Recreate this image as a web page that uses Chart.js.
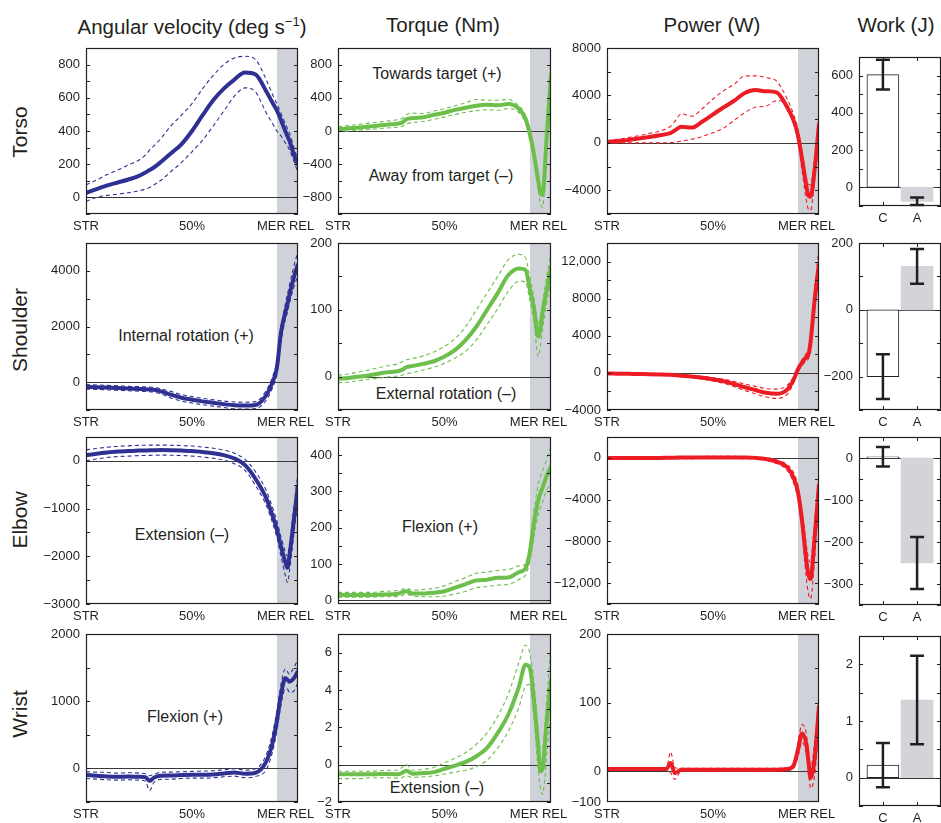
<!DOCTYPE html>
<html>
<head>
<meta charset="utf-8">
<script src="https://cdn.jsdelivr.net/npm/chart.js@4.4.0/dist/chart.umd.min.js"></script>
<style>
body{margin:0;width:941px;height:823px;overflow:hidden;background:#fff;position:relative;
  font-family:"Liberation Sans",Arial,Helvetica,sans-serif;color:#231f20}
.box{position:absolute}
.title{position:absolute;font-size:20.5px;transform:translate(-50%,-50%);white-space:nowrap}
.title sup{font-size:13px;line-height:0}
.row{position:absolute;font-size:21px;transform:translate(-50%,-50%) rotate(-90deg);white-space:nowrap}
.note{position:absolute;font-size:16px;transform:translate(-50%,-50%);white-space:nowrap}
</style>
</head>
<body>
<div class="title" style="left:192px;top:27px">Angular velocity (deg s<sup>&minus;1</sup>)</div>
<div class="title" style="left:443px;top:25px">Torque (Nm)</div>
<div class="title" style="left:712px;top:25px">Power (W)</div>
<div class="title" style="left:896px;top:25px">Work (J)</div>
<div class="row" style="left:20px;top:132px">Torso</div>
<div class="row" style="left:20px;top:330px">Shoulder</div>
<div class="row" style="left:20px;top:520px">Elbow</div>
<div class="row" style="left:20px;top:714px">Wrist</div>

<div class="note" style="left:437px;top:74px">Towards target (+)</div>
<div class="note" style="left:441px;top:176px">Away from target (–)</div>
<div class="note" style="left:186px;top:336px">Internal rotation (+)</div>
<div class="note" style="left:446px;top:394px">External rotation (–)</div>
<div class="note" style="left:182px;top:535px">Extension (–)</div>
<div class="note" style="left:440px;top:527px">Flexion (+)</div>
<div class="note" style="left:185px;top:717px">Flexion (+)</div>
<div class="note" style="left:437px;top:788px">Extension (–)</div>

<script>
// time axis (% of STR -> REL)
const pct = [0,5,10,15,20,25,28,30,32,35,40,45,50,55,60,65,70,75,80,85,88,90,92,94,95,96,98,100];
const mer = 90;
const timeTicks = [0,50,90,100];
const timeLabels = ['STR','50%','MER   ','  REL'];

// angular velocity (deg/s)
const avTorso   = [26,50,72,90,108,130,150,165,180,210,265,320,400,495,585,655,710,752,740,640,570,525,465,400,370,340,260,195];
const avTorsoUp = [76,105,138,165,195,225,255,285,310,350,430,495,565,655,735,800,840,850,830,710,620,565,505,445,415,385,305,225];
const avTorsoLo = [-25,0,12,20,28,40,50,60,75,100,155,210,275,345,430,520,610,660,635,510,445,400,370,330,310,285,220,150];
const avShoulder   = [-170,-180,-195,-210,-230,-245,-252,-260,-275,-320,-450,-560,-630,-690,-740,-790,-830,-840,-820,-470,0,500,1800,2500,2800,3150,3750,4250];
const avShoulderUp = [-90,-100,-115,-130,-150,-160,-168,-175,-190,-230,-330,-450,-520,-580,-630,-680,-710,-720,-700,-300,200,750,1950,2800,3150,3500,4150,4700];
const avShoulderLo = [-250,-260,-275,-290,-310,-325,-335,-345,-360,-410,-570,-680,-750,-810,-860,-910,-960,-970,-950,-650,-200,250,1450,2250,2500,2850,3400,3850];
const avElbow   = [120,150,175,195,205,215,218,220,222,225,222,215,205,185,160,120,50,-90,-380,-780,-1150,-1430,-1800,-2120,-2240,-1980,-1250,-500];
const avElbowUp = [230,260,285,305,315,325,328,330,330,330,327,320,310,290,265,225,160,30,-230,-620,-980,-1250,-1600,-1900,-2000,-1750,-1000,-250];
const avElbowLo = [0,40,70,90,100,110,113,115,117,120,118,112,100,80,55,15,-60,-200,-520,-930,-1300,-1600,-2000,-2400,-2550,-2300,-1550,-800];
const avWrist   = [-100,-110,-120,-125,-120,-125,-130,-185,-140,-110,-105,-100,-95,-95,-90,-75,-60,-80,-65,100,380,700,1100,1340,1320,1290,1340,1450];
const avWristUp = [-50,-55,-60,-70,-65,-70,-80,-110,-90,-60,-55,-50,-45,-40,-35,-20,-5,-25,-5,200,520,850,1250,1480,1440,1400,1500,1620];
const avWristLo = [-150,-160,-170,-175,-170,-175,-190,-330,-210,-165,-160,-150,-145,-145,-140,-125,-115,-140,-120,-20,250,550,950,1180,1180,1130,1150,1280];

// torque (Nm)
const tqTorso   = [20,32,43,55,68,80,88,100,140,155,165,195,220,255,280,305,315,310,325,265,150,-30,-280,-600,-740,-770,-60,680];
const tqTorsoUp = [50,65,80,95,110,125,135,150,195,215,210,240,270,305,340,380,370,370,380,300,190,20,-220,-500,-640,-620,120,900];
const tqTorsoLo = [-10,0,10,20,30,40,45,55,85,100,115,140,170,200,225,245,255,250,270,220,100,-80,-350,-700,-880,-920,-280,450];
const tqShoulder   = [-3,-2,0,2,5,7,8,10,14,16,19,23,30,40,55,75,100,125,152,162,160,132,102,60,72,95,130,165];
const tqShoulderUp = [2,4,7,10,14,17,19,22,25,27,31,37,45,57,75,100,125,150,175,183,178,150,118,78,90,110,150,185];
const tqShoulderLo = [-9,-8,-6,-4,-2,0,1,2,4,6,10,14,20,28,38,55,78,102,128,143,142,115,82,30,45,70,110,145];
const tqElbow   = [15,15,15,15,16,17,18,22,25,19,19,21,25,35,45,55,57,62,63,78,88,130,215,275,295,310,343,370];
const tqElbowUp = [22,22,22,22,24,26,27,30,33,28,30,33,40,52,63,75,78,83,85,95,100,155,245,320,340,355,390,425];
const tqElbowLo = [9,9,9,9,10,10,11,13,17,12,10,10,12,18,25,35,38,42,44,58,70,105,175,235,255,270,305,320];
const tqWrist   = [-0.52,-0.52,-0.52,-0.52,-0.5,-0.5,-0.52,-0.45,-0.32,-0.48,-0.45,-0.4,-0.22,-0.05,0.15,0.45,0.9,1.7,2.7,4.2,5.35,5.2,3.4,0.95,-0.35,-0.2,2.3,4.6];
const tqWristUp = [-0.35,-0.35,-0.35,-0.35,-0.32,-0.3,-0.3,-0.15,0,-0.3,-0.25,-0.15,0.1,0.35,0.65,1.1,1.7,2.6,3.8,5.5,6.4,6.0,4.4,1.8,0.8,0.9,3.5,6.6];
const tqWristLo = [-0.75,-0.75,-0.75,-0.7,-0.7,-0.7,-0.72,-0.7,-0.6,-0.68,-0.65,-0.6,-0.5,-0.4,-0.3,-0.1,0.25,0.9,1.8,3.1,4.2,4.3,2.5,-0.3,-1.2,-1.6,0.5,2.8];

// power (W)
const pwTorso   = [80,150,250,370,500,640,740,830,1050,1350,1290,1800,2400,3000,3550,4200,4450,4350,4250,3000,1900,700,-1350,-3600,-4450,-4550,-2150,1600];
const pwTorsoUp = [200,300,450,600,800,1000,1200,1400,1800,2450,2250,2900,3700,4400,4950,5650,5650,5500,5200,3700,2400,1200,-900,-2900,-3500,-3550,-1200,2600];
const pwTorsoLo = [-50,-20,0,0,0,0,10,20,60,150,300,550,850,1250,1900,2550,3000,3100,3550,3100,1700,200,-2300,-4800,-5600,-5700,-3000,400];
const pwShoulder   = [-60,-80,-100,-120,-140,-170,-190,-210,-240,-300,-400,-520,-700,-900,-1200,-1550,-1850,-2150,-2250,-1800,-750,350,1100,1700,1950,3300,8000,11700];
const pwShoulderUp = [-40,-50,-60,-80,-90,-110,-125,-140,-160,-200,-280,-370,-520,-680,-920,-1200,-1450,-1700,-1750,-1350,-400,650,1400,2100,2400,4000,9200,13500];
const pwShoulderLo = [-80,-110,-140,-160,-190,-230,-255,-280,-320,-400,-520,-680,-880,-1120,-1480,-1900,-2250,-2600,-2750,-2300,-1100,50,800,1300,1550,2600,7000,10000];
const pwElbow   = [0,0,0,0,0,0,10,20,20,30,30,40,40,40,40,30,0,-100,-350,-900,-1900,-3200,-6000,-9800,-11200,-11600,-7500,-2500];
const pwElbowUp = [100,100,100,100,100,100,110,120,120,130,130,140,140,140,140,130,100,0,-200,-650,-1400,-2600,-5000,-8300,-9600,-10000,-6000,-1500];
const pwElbowLo = [-100,-100,-100,-100,-100,-100,-90,-80,-80,-70,-70,-60,-60,-60,-60,-70,-100,-250,-550,-1200,-2400,-3900,-7000,-11500,-13000,-13500,-9500,-3500];
const pwWrist   = [3,3,3,3,3,3,3,12,-3,2,2,2,2,2,2,2,2,2,2,3,8,30,55,40,15,-10,20,95];
const pwWristUp = [5,5,5,5,5,5,5,28,5,4,4,4,4,4,4,4,4,4,4,5,12,40,68,55,30,5,45,110];
const pwWristLo = [1,1,1,1,1,1,1,-2,-12,0,0,0,0,0,0,0,0,0,0,1,4,20,42,25,0,-25,-5,70];

// work (J): C and A with SD
const workCats = ['C','A'];
const workTorso = [605,-75],   workTorsoErr = [80,20];
const workShoulder = [-200,130], workShoulderErr = [67,52];
const workElbow = [3,-250],    workElbowErr = [23,62];
const workWrist = [0.22,1.37], workWristErr = [0.39,0.78];

// y ticks (the wrist power panel's bottom tick is printed as -100 in the figure)
const avTicks = [[0,200,400,600,800],[0,2000,4000],[-3000,-2000,-1000,0],[0,1000,2000]];
const tqTicks = [[-800,-400,0,400,800],[0,100,200],[0,100,200,300,400],[-2,0,2,4,6]];
const pwTicks = [[-4000,0,4000,8000],[-4000,0,4000,8000,12000],[-12000,-8000,-4000,0],[-45,0,100,200]];
const pwWristTickLabels = ['\u2212100','0','100','200'];
const wkTicks = [[0,200,400,600],[-200,0,200],[-300,-200,-100,0],[0,1,2]];

const BLUE = '#2e3192', GREEN = '#6cbf4a', RED = '#ed1c24';
const SHADE = '#cfd2d9', INK = '#231f20';

const colX = [86,338,607];
const colW = [212,213,212];
const rowY = [48,243,437,634];
const rowH = [166,167,167,168];

function fmt(v){
  const a = Math.abs(v);
  const s = a >= 10000 ? a.toLocaleString('en-US') : String(a);
  return (v < 0 ? '\u2212' : '') + s;
}
function pts(arr){ return arr.map((v,i) => ({x: pct[i], y: v})); }

function frame(opts){
  return {
    id: 'frame',
    beforeDatasetsDraw(chart){
      const {ctx, chartArea: a, scales: {x, y}} = chart;
      ctx.save();
      if (opts.shade){
        const xs = Math.round(x.getPixelForValue(mer));
        ctx.fillStyle = SHADE;
        ctx.fillRect(xs, a.top, a.right - xs, a.bottom - a.top);
      }
      const y0 = Math.round(y.getPixelForValue(0)) + 0.5;
      ctx.strokeStyle = '#3a3a3a'; ctx.lineWidth = 1;
      ctx.beginPath(); ctx.moveTo(a.left, y0); ctx.lineTo(a.right, y0); ctx.stroke();
      ctx.restore();
    },
    afterDatasetsDraw(chart){
      if (!opts.err) return;
      const {ctx, scales: {x, y}} = chart;
      ctx.save();
      ctx.strokeStyle = INK; ctx.lineWidth = 2.5;
      opts.vals.forEach((v,i) => {
        const px = x.getPixelForValue(i+1);
        const t = y.getPixelForValue(v + opts.err[i]);
        const b = y.getPixelForValue(v - opts.err[i]);
        ctx.beginPath();
        ctx.moveTo(px, t); ctx.lineTo(px, b);
        ctx.moveTo(px-7, t); ctx.lineTo(px+7, t);
        ctx.moveTo(px-7, b); ctx.lineTo(px+7, b);
        ctx.stroke();
      });
      ctx.restore();
    },
    afterDraw(chart){
      const {ctx, chartArea: a, scales: {x, y}} = chart;
      ctx.save();
      ctx.strokeStyle = INK; ctx.lineWidth = 1.2;
      ctx.strokeRect(a.left+0.5, a.top+0.5, a.right-a.left-1, a.bottom-a.top-1);
      // inward minor ticks
      const step = opts.step;
      ctx.lineWidth = 1;
      ctx.beginPath();
      for (let v = Math.ceil(y.min/step)*step; v <= y.max; v += step){
        const py = Math.round(y.getPixelForValue(v)) + 0.5;
        ctx.moveTo(a.left, py); ctx.lineTo(a.left+4, py);
        ctx.moveTo(a.right, py); ctx.lineTo(a.right-4, py);
      }
      if (opts.err){
        [1,2].forEach(c => {
          const px = Math.round(x.getPixelForValue(c)) + 0.5;
          ctx.moveTo(px, a.top); ctx.lineTo(px, a.top+4);
          ctx.moveTo(px, a.bottom); ctx.lineTo(px, a.bottom-4);
        });
      }
      ctx.stroke();
      ctx.restore();
    }
  };
}

function place(left, top, w, h, YW, PT, PR, XH){
  const div = document.createElement('div');
  div.className = 'box';
  div.style.left = (left - YW) + 'px';
  div.style.top = (top - PT) + 'px';
  const cv = document.createElement('canvas');
  cv.width = YW + w + PR;
  cv.height = PT + h + XH;
  div.appendChild(cv);
  document.body.appendChild(div);
  return cv;
}

const tickFont = {family: '"Liberation Sans", Arial, sans-serif', size: 13};

function axisY(min, max, ticks, YW, labels){
  return {
    type: 'linear', min: min, max: max,
    grid: {display: false, drawTicks: false}, border: {display: false},
    afterBuildTicks: s => { s.ticks = ticks.map(v => ({value: v})); },
    afterFit: s => { s.width = YW; },
    ticks: {color: INK, font: tickFont, padding: 6, autoSkip: false,
            callback: v => labels ? labels[ticks.indexOf(v)] : fmt(v)}
  };
}

function linePanel(c, r, color, mean, up, lo, min, max, ticks, labels){
  const YW = 62, PT = 26, PR = 36, XH = 22;
  const cv = place(colX[c], rowY[r], colW[c], rowH[r], YW, PT, PR, XH);
  const dashed = arr => ({data: pts(arr), borderColor: color, borderWidth: 1.1, borderDash: [4,3]});
  const step = labels ? 50 : (ticks[1] - ticks[0]) / 2;
  new Chart(cv, {
    type: 'line',
    data: {datasets: [dashed(up), dashed(lo), {data: pts(mean), borderColor: color, borderWidth: 4}]},
    options: {
      responsive: false, animation: false,
      layout: {padding: {top: PT, right: PR, left: 0, bottom: 0}},
      elements: {point: {radius: 0}, line: {cubicInterpolationMode: 'monotone', fill: false}},
      plugins: {legend: {display: false}, tooltip: {enabled: false}},
      scales: {
        x: {
          type: 'linear', min: 0, max: 100,
          grid: {display: false, drawTicks: false}, border: {display: false},
          afterBuildTicks: s => { s.ticks = timeTicks.map(v => ({value: v})); },
          afterFit: s => { s.height = XH; },
          ticks: {color: INK, font: tickFont, padding: 5, autoSkip: false, maxRotation: 0,
                  callback: v => timeLabels[timeTicks.indexOf(v)]}
        },
        y: axisY(min, max, ticks, YW, labels)
      }
    },
    plugins: [frame({shade: true, step: step})]
  });
}

function workPanel(top, h, vals, err, min, max, ticks){
  const YW = 50, PT = 26, PR = 6, XH = 20;
  const cv = place(859, top, 82, h, YW, PT, PR, XH);
  new Chart(cv, {
    type: 'bar',
    data: {datasets: [{
      data: vals.map((v,i) => ({x: i+1, y: v})),
      backgroundColor: ['#ffffff', '#d2d4d9'],
      borderColor: [INK, 'rgba(0,0,0,0)'],
      borderWidth: [1, 0],
      borderSkipped: false,
      barThickness: 32
    }]},
    options: {
      responsive: false, animation: false,
      layout: {padding: {top: PT, right: PR, left: 0, bottom: 0}},
      plugins: {legend: {display: false}, tooltip: {enabled: false}},
      scales: {
        x: {
          type: 'linear', min: 0.3, max: 2.7, offset: false,
          grid: {display: false, drawTicks: false, offset: false}, border: {display: false},
          afterBuildTicks: s => { s.ticks = [{value: 1}, {value: 2}]; },
          afterFit: s => { s.height = XH; },
          ticks: {color: INK, font: tickFont, padding: 5, autoSkip: false, maxRotation: 0,
                  callback: v => workCats[v-1]}
        },
        y: axisY(min, max, ticks, YW)
      }
    },
    plugins: [frame({shade: false, step: (ticks[1] - ticks[0]) / 2, err: err, vals: vals})]
  });
}

// angular velocity column
linePanel(0, 0, BLUE, avTorso, avTorsoUp, avTorsoLo, -100, 900, avTicks[0]);
linePanel(0, 1, BLUE, avShoulder, avShoulderUp, avShoulderLo, -1000, 5000, avTicks[1]);
linePanel(0, 2, BLUE, avElbow, avElbowUp, avElbowLo, -3000, 500, avTicks[2]);
linePanel(0, 3, BLUE, avWrist, avWristUp, avWristLo, -500, 2000, avTicks[3]);
// torque column
linePanel(1, 0, GREEN, tqTorso, tqTorsoUp, tqTorsoLo, -1000, 1000, tqTicks[0]);
linePanel(1, 1, GREEN, tqShoulder, tqShoulderUp, tqShoulderLo, -50, 200, tqTicks[1]);
linePanel(1, 2, GREEN, tqElbow, tqElbowUp, tqElbowLo, -10, 450, tqTicks[2]);
linePanel(1, 3, GREEN, tqWrist, tqWristUp, tqWristLo, -2, 7, tqTicks[3]);
// power column
linePanel(2, 0, RED, pwTorso, pwTorsoUp, pwTorsoLo, -6000, 8000, pwTicks[0]);
linePanel(2, 1, RED, pwShoulder, pwShoulderUp, pwShoulderLo, -4000, 14000, pwTicks[1]);
linePanel(2, 2, RED, pwElbow, pwElbowUp, pwElbowLo, -14000, 2000, pwTicks[2]);
linePanel(2, 3, RED, pwWrist, pwWristUp, pwWristLo, -45, 200, pwTicks[3], pwWristTickLabels);
// work column
workPanel(57, 149, workTorso, workTorsoErr, -100, 700, wkTicks[0]);
workPanel(243, 167, workShoulder, workShoulderErr, -300, 200, wkTicks[1]);
workPanel(437, 168, workElbow, workElbowErr, -350, 50, wkTicks[2]);
workPanel(636, 170, workWrist, workWristErr, -0.5, 2.5, wkTicks[3]);
</script>
</body>
</html>
